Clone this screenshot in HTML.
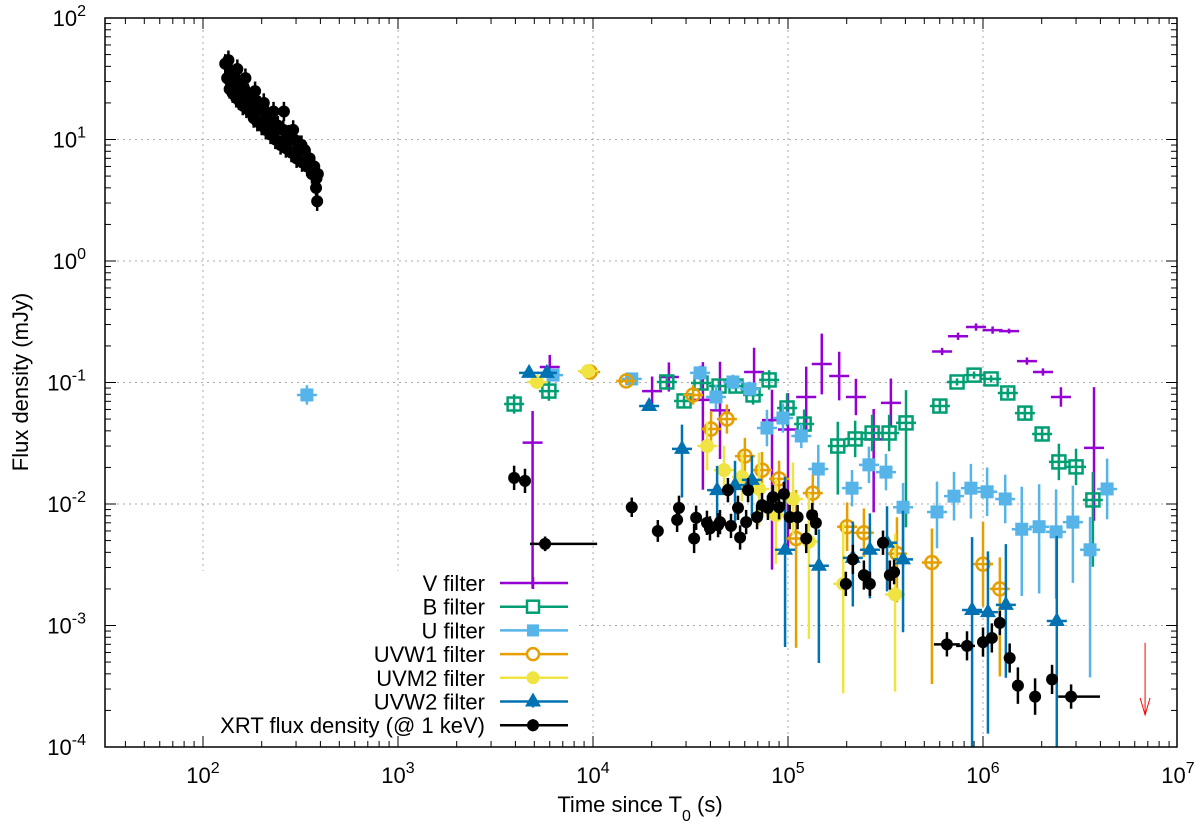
<!DOCTYPE html>
<html><head><meta charset="utf-8"><style>
html,body{margin:0;padding:0;background:#fff}
svg{display:block;font-family:"Liberation Sans",sans-serif}
</style></head><body>
<svg id="chart" width="1200" height="827" viewBox="0 0 1200 827" xmlns="http://www.w3.org/2000/svg">
<rect x="0" y="0" width="1200" height="827" fill="#fff"/>
<g id="grid"></g>
<rect x="106" y="571" width="470" height="175" fill="#fff"/>
<g id="marks"></g>
<g id="axes"></g>
<g id="legend"></g>
<text x="0" y="0" transform="translate(28,382) rotate(-90)" text-anchor="middle" font-size="22">Flux density (mJy)</text>
<text x="640" y="812" text-anchor="middle" font-size="22">Time since T<tspan baseline-shift="sub" font-size="16">0</tspan> (s)</text>
</svg>
<script>
// ---- data ----
const xTickExps = [2,3,4,5,6,7];
const yTickExps = [2,1,0,-1,-2,-3,-4];
const vT = [4900,6000,20100,24500,36600,44800,67000,82800,100000,124000,149000,183000,223000,275000,337000,617000,745000,921000,1.12e6,1.36e6,1.68e6,2.03e6,2.51e6,3.71e6];
const vF = [0.032,0.134,0.085,0.111,0.072,0.059,0.122,0.049,0.041,0.076,0.142,0.113,0.076,0.034,0.068,0.18,0.24,0.286,0.27,0.265,0.15,0.122,0.076,0.029];
const vLo = [1.2,0.1,0.12,0.12,0.74,0.4,0.2,1.23,1.0,0.3,0.25,0.2,0.15,0.6,0.2,0.03,0.03,0.03,0.03,0.02,0.03,0.03,0.08,0.6];
const vHi = [0.26,0.1,0.12,0.12,0.31,0.4,0.2,0.25,0.3,0.25,0.25,0.2,0.15,0.25,0.2,0.03,0.03,0.03,0.03,0.02,0.03,0.03,0.08,0.5];
const bT = [3940,5940,23900,29300,35800,44300,54100,66200,80000,98900,121000,180000,221000,270000,330000,403000,601000,736000,900000,1.10e6,1.34e6,1.64e6,2.01e6,2.45e6,3.00e6,3.66e6];
const bF = [0.0665,0.085,0.101,0.0705,0.099,0.0935,0.0935,0.079,0.105,0.0617,0.0455,0.030,0.0343,0.0384,0.0384,0.0465,0.064,0.101,0.115,0.107,0.082,0.056,0.0377,0.0222,0.0202,0.0108];
const bLo = [0.08,0.08,0.05,0.05,0.05,0.05,0.05,0.08,0.08,0.15,0.12,0.4,0.15,0.15,0.15,0.86,0.05,0.03,0.03,0.03,0.04,0.05,0.06,0.15,0.15,0.55];
const bHi = [0.08,0.08,0.05,0.05,0.05,0.05,0.05,0.08,0.08,0.12,0.12,0.2,0.15,0.15,0.15,0.27,0.05,0.03,0.03,0.03,0.04,0.05,0.06,0.15,0.15,0.23];
const uT = [341,6240,15800,35400,42700,52200,63800,78000,94200,117000,143000,213000,260000,318000,389000,581000,710000,867000,1.05e6,1.30e6,1.58e6,1.94e6,2.37e6,2.89e6,3.54e6,4.33e6];
const uF = [0.079,0.115,0.107,0.120,0.076,0.101,0.0885,0.0422,0.051,0.0363,0.0194,0.0135,0.021,0.0183,0.0094,0.0086,0.0116,0.0135,0.0126,0.0110,0.0062,0.0065,0.0059,0.0071,0.0042,0.0133];
const uLo = [0.08,0.04,0.04,0.06,0.1,0.06,0.06,0.15,0.12,0.1,0.2,0.15,0.15,0.15,0.5,0.3,0.2,0.25,0.2,0.2,0.55,0.55,0.55,0.5,1.05,0.25];
const uHi = [0.08,0.04,0.04,0.06,0.1,0.06,0.06,0.15,0.12,0.1,0.2,0.15,0.15,0.15,0.2,0.25,0.2,0.2,0.2,0.2,0.35,0.35,0.35,0.3,0.27,0.25];
const w1T = [9660,14800,32600,40300,48600,60100,73600,90000,110000,134000,201000,245000,362000,547000,1.0e6,1.22e6];
const w1F = [0.122,0.103,0.079,0.0414,0.050,0.0248,0.019,0.0161,0.0052,0.0123,0.0065,0.0058,0.0039,0.0033,0.0032,0.0020];
const w1Lo = [0.03,0.03,0.08,0.15,0.12,0.15,0.15,0.15,0.9,0.15,0.2,0.2,0.4,1.0,0.35,0.72];
const w1Hi = [0.03,0.03,0.08,0.15,0.12,0.15,0.15,0.15,0.4,0.15,0.2,0.2,0.3,0.28,0.35,0.26];
const m2T = [5160,9420,38500,47000,58100,71000,86700,106000,128000,192000,354000];
const m2F = [0.101,0.124,0.030,0.019,0.0167,0.0133,0.0081,0.011,0.0049,0.0022,0.0018];
const m2Lo = [0.04,0.03,0.2,0.2,0.2,0.3,0.4,0.3,0.8,0.9,0.8];
const m2Hi = [0.04,0.03,0.2,0.2,0.2,0.3,0.3,0.3,0.4,0.5,0.5];
const w2T = [4700,5800,19400,28600,43300,53500,65300,96600,144000,215000,263000,322000,389000,879000,1.06e6,1.31e6,2.39e6];
const w2F = [0.120,0.120,0.064,0.0284,0.013,0.0143,0.0158,0.0042,0.0031,0.0036,0.0042,0.0048,0.0035,0.00134,0.00129,0.00148,0.00109];
const w2Lo = [0.03,0.03,0.04,0.4,0.3,0.3,0.3,0.8,0.8,0.4,0.4,0.4,0.6,1.5,1.0,0.6,1.5];
const w2Hi = [0.03,0.03,0.04,0.2,0.2,0.2,0.2,0.6,0.3,0.3,0.3,0.3,0.4,0.6,0.5,0.5,0.7];
const xrtEarlyT = [130,133,135,137,140,142,145,148,150,153,156,160,163,167,170,174,178,182,186,190,195,200,205,210,215,222,228,235,242,250,258,266,275,284,293,302,312,322,332,342,352,362,372,382,388,385,380,150,165,185,205,230,260,290,320,355,138,146,158,172,188,212,238,268,300,340];
const xrtEarlyF = [42,32,45,26,36,24,33,22,30,21,28,19,26,18,24,17,22,15,21,14,19,13,17,12,16,11,14,10,13,9,12,8.5,11,7.8,10,7,9,6.5,8.2,6,7,5.2,6,4.8,5.2,3.1,4,38,32,25,20,17,17,12,9,6,30,28,23,20,17,14,12,10,8,6.5];
const xrtT = [3940,4480,5680,15800,21500,27000,27600,33000,33800,38400,39800,43800,44800,49200,51000,55400,56800,61000,62400,69400,73600,78900,83700,90000,95300,102000,112000,124000,133000,139000,198000,215000,245000,263000,307000,333000,350000,653000,828000,1.0e6,1.11e6,1.22e6,1.37e6,1.51e6,1.85e6,2.26e6,2.83e6];
const xrtF = [0.0164,0.0155,0.0047,0.0094,0.006,0.0074,0.0093,0.0052,0.0077,0.007,0.0063,0.0067,0.0071,0.013,0.0066,0.0093,0.0053,0.0071,0.013,0.0078,0.0098,0.0093,0.0114,0.0094,0.0121,0.0078,0.0078,0.0052,0.0081,0.007,0.0022,0.0035,0.0026,0.0022,0.0048,0.0026,0.00275,0.0007,0.00068,0.00073,0.00079,0.00105,0.00054,0.00032,0.00026,0.00036,0.00026];
const xrtErr = [0.1,0.1,0.06,0.08,0.09,0.1,0.1,0.12,0.1,0.1,0.1,0.1,0.1,0.1,0.1,0.1,0.1,0.1,0.1,0.1,0.1,0.1,0.1,0.1,0.1,0.1,0.1,0.12,0.1,0.1,0.1,0.12,0.12,0.1,0.1,0.12,0.1,0.1,0.12,0.12,0.12,0.1,0.12,0.15,0.15,0.12,0.1];
const xrtXLo = [0,0,4750,0,0,0,0,0,0,0,0,0,0,0,0,0,0,0,0,0,0,0,0,0,0,0,0,0,0,0,0,0,0,0,0,0,0,560000,728000,0,0,0,0,0,0,0,2.43e6];
const xrtXHi = [0,0,10500,0,0,0,0,0,0,0,0,0,0,0,0,0,0,0,0,0,0,0,0,0,0,0,0,0,0,0,0,0,0,0,0,0,0,760000,910000,0,0,0,0,0,0,0,3.98e6];
const limitT = [6.78e6];
const limitF = [0.00072];

// ---- axes functions ----
const X0=105, X1=1177, Y0=18, Y1=747;
function xs(t){ return 203 + (Math.log10(t)-2)*195; }
function ys(f){ return 261 - Math.log10(f)*121.5; }
const NS='http://www.w3.org/2000/svg';
function mk(tag, attrs, parent){ const e=document.createElementNS(NS,tag); for(const k in attrs) e.setAttribute(k,attrs[k]); parent.appendChild(e); return e; }

const grid=document.getElementById('grid');
xTickExps.forEach(e=>{ const x=xs(Math.pow(10,e)); if(x<X1-1){ const l=mk('line',{x1:x,x2:x,y1:Y0,y2:Y1,stroke:'#aaa','stroke-width':1,'stroke-dasharray':'2,4'},grid);

 }});
yTickExps.forEach(e=>{ const y=ys(Math.pow(10,e)); if(y>Y0+1&&y<Y1-1){ const l=mk('line',{x1:X0,x2:X1,y1:y,y2:y,stroke:'#aaa','stroke-width':1,'stroke-dasharray':'2,4'},grid);

 }});

const axes=document.getElementById('axes');
const border=mk('rect',{x:X0,y:Y0,width:X1-X0,height:Y1-Y0,fill:'none',stroke:'#000','stroke-width':1.5},axes);


for(let e=1;e<=7;e++){ for(let m=1;m<10;m++){ const t=m*Math.pow(10,e); const x=xs(t); if(x<X0||x>X1) continue; const L=m===1?11:6;
 mk('line',{x1:x,x2:x,y1:Y1,y2:Y1-L,stroke:'#000','stroke-width':1},axes); mk('line',{x1:x,x2:x,y1:Y0,y2:Y0+L,stroke:'#000','stroke-width':1},axes);} }
xTickExps.forEach(e=>{ const x=xs(Math.pow(10,e)); const t=mk('text',{x:x,y:783,'text-anchor':'middle','font-size':22},axes);
 
 
 t.innerHTML='10<tspan dy="-10" font-size="16">'+e+'</tspan>'; });
for(let e=-4;e<=2;e++){ for(let m=1;m<10;m++){ const f=m*Math.pow(10,e); const y=ys(f); if(y<Y0-0.5||y>Y1+0.5) continue; const L=m===1?11:6;
 mk('line',{x1:X0,x2:X0+L,y1:y,y2:y,stroke:'#000','stroke-width':1},axes); mk('line',{x1:X1,x2:X1-L,y1:y,y2:y,stroke:'#000','stroke-width':1},axes);} }
yTickExps.forEach(e=>{ const y=ys(Math.pow(10,e)); const t=mk('text',{x:86,y:y+8,'text-anchor':'end','font-size':22},axes);
 
 
 t.innerHTML='10<tspan dy="-10" font-size="16">'+e+'</tspan>'; });

// ---- marks ----
const marks=document.getElementById('marks');
function marker(g,type,x,y,c){
 const sw=2.5;
 if(type==='plus'){ mk('line',{x1:x-10,x2:x+10,y1:y,y2:y,stroke:c,'stroke-width':sw},g); }
 else if(type==='osq'){ mk('line',{x1:x-10,x2:x+10,y1:y,y2:y,stroke:c,'stroke-width':sw},g); mk('rect',{x:x-6.5,y:y-6.5,width:13,height:13,fill:'none',stroke:c,'stroke-width':sw},g); }
 else if(type==='fsq'){ mk('line',{x1:x-10,x2:x+10,y1:y,y2:y,stroke:c,'stroke-width':sw},g); mk('rect',{x:x-6.5,y:y-6.5,width:13,height:13,fill:c},g); }
 else if(type==='ocirc'){ mk('line',{x1:x-10,x2:x+10,y1:y,y2:y,stroke:c,'stroke-width':sw},g); mk('circle',{cx:x,cy:y,r:6.5,fill:'none',stroke:c,'stroke-width':sw},g); }
 else if(type==='fcirc'){ mk('line',{x1:x-10,x2:x+10,y1:y,y2:y,stroke:c,'stroke-width':sw},g); mk('circle',{cx:x,cy:y,r:7,fill:c},g); }
 else if(type==='tri'){ mk('line',{x1:x-10,x2:x+10,y1:y,y2:y,stroke:c,'stroke-width':sw},g); mk('polygon',{points:(x-8)+','+(y+5)+' '+(x+8)+','+(y+5)+' '+x+','+(y-9),fill:c},g); }
 else if(type==='dot'){ mk('circle',{cx:x,cy:y,r:6,fill:c},g); }
}
function series(name,T,F,Lo,Hi,type,c){
 const sg=mk('g',{},marks);
 
 
 for(let i=0;i<T.length;i++){
  const x=xs(T[i]), y=ys(F[i]);
  const g=mk('g',{},sg);
  
  
  const yTop=ys(F[i]*Math.pow(10,Hi[i])), yBot=Math.min(Y1,ys(F[i]/Math.pow(10,Lo[i])));
  mk('line',{x1:x,x2:x,y1:yTop,y2:yBot,stroke:c,'stroke-width':2.5},g);
  marker(g,type,x,y,c);
 }
}
series('v-filter',vT,vF,vLo,vHi,'plus','#9400d3');
series('b-filter',bT,bF,bLo,bHi,'osq','#009e73');
series('u-filter',uT,uF,uLo,uHi,'fsq','#56b4e9');
series('uvw1-filter',w1T,w1F,w1Lo,w1Hi,'ocirc','#e69f00');
series('uvm2-filter',m2T,m2F,m2Lo,m2Hi,'fcirc','#f0e442');
series('uvw2-filter',w2T,w2F,w2Lo,w2Hi,'tri','#0072b2');
const eg=mk('g',{},marks);


for(let i=0;i<xrtEarlyT.length;i++){ const x=xs(xrtEarlyT[i]), y=ys(xrtEarlyF[i]);
 const g=mk('g',{},eg);
 
 
 mk('line',{x1:x,x2:x,y1:ys(xrtEarlyF[i]*1.2),y2:ys(xrtEarlyF[i]/1.2),stroke:'#000','stroke-width':2.5},g);
 mk('line',{x1:x-4,x2:x+4,y1:y,y2:y,stroke:'#000','stroke-width':2.5},g);
 marker(g,'dot',x,y,'#000'); }
const lg=mk('g',{},marks);


for(let i=0;i<xrtT.length;i++){ const x=xs(xrtT[i]), y=ys(xrtF[i]);
 const g=mk('g',{},lg);
 
 
 mk('line',{x1:x,x2:x,y1:ys(xrtF[i]*Math.pow(10,xrtErr[i])),y2:ys(xrtF[i]/Math.pow(10,xrtErr[i])),stroke:'#000','stroke-width':2.5},g);
 if(xrtXLo[i]>0){ mk('line',{x1:xs(xrtXLo[i]),x2:xs(xrtXHi[i]),y1:y,y2:y,stroke:'#000','stroke-width':2.5},g); }
 else { mk('line',{x1:x-4,x2:x+4,y1:y,y2:y,stroke:'#000','stroke-width':2.5},g); }
 marker(g,'dot',x,y,'#000'); }
limitT.forEach((t,i)=>{ const x=xs(t), y=ys(limitF[i]);
 const g=mk('g',{},marks);
 
 
 mk('line',{x1:x,x2:x,y1:y,y2:y+72,stroke:'#ff0000','stroke-width':1},g);
 mk('polyline',{points:(x-5)+','+(y+55)+' '+x+','+(y+72)+' '+(x+5)+','+(y+55),fill:'none',stroke:'#ff0000','stroke-width':1},g); });

// ---- legend ----
const legend=document.getElementById('legend');
const legNames=['V filter','B filter','U filter','UVW1 filter','UVM2 filter','UVW2 filter','XRT flux density (@ 1 keV)'];
const legTypes=['plus','osq','fsq','ocirc','fcirc','tri','dot'];
const legColors=['#9400d3','#009e73','#56b4e9','#e69f00','#f0e442','#0072b2','#000'];
legNames.forEach((n,i)=>{ const y=583+i*23.7;
 const g=mk('g',{},legend);
 
 
 const t=mk('text',{x:485,y:y+8,'text-anchor':'end','font-size':22},g); t.textContent=n;
 mk('line',{x1:500,x2:568,y1:y,y2:y,stroke:legColors[i],'stroke-width':2.5},g);
 mk('line',{x1:533,x2:533,y1:y-6,y2:y+6,stroke:legColors[i],'stroke-width':2.5},g);
 if(legTypes[i]==='plus'){}
 else if(legTypes[i]==='osq') mk('rect',{x:527,y:y-6,width:12,height:12,fill:'#fff',stroke:legColors[i],'stroke-width':2.5},g);
 else if(legTypes[i]==='fsq') mk('rect',{x:527,y:y-6,width:12,height:12,fill:legColors[i]},g);
 else if(legTypes[i]==='ocirc') mk('circle',{cx:533,cy:y,r:6,fill:'#fff',stroke:legColors[i],'stroke-width':2.5},g);
 else if(legTypes[i]==='fcirc') mk('circle',{cx:533,cy:y,r:6.5,fill:legColors[i]},g);
 else if(legTypes[i]==='tri') mk('polygon',{points:'525,'+(y+5)+' 541,'+(y+5)+' 533,'+(y-9),fill:legColors[i]},g);
 else mk('circle',{cx:533,cy:y,r:6,fill:legColors[i]},g);
});
</script>
</body></html>
